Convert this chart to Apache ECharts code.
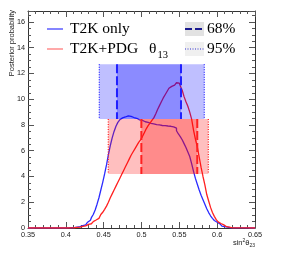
<!DOCTYPE html>
<html><head><meta charset="utf-8">
<script src="https://cdn.jsdelivr.net/npm/echarts@6/dist/echarts.min.js"></script>
<style>html,body{margin:0;padding:0;background:#fff}#c{width:284px;height:256px}</style>
</head><body><div id="c"></div>
<script>
// bin centres of sin^2(theta23) histogram
const binCenters = [0.35,
  0.4000,0.4025,0.4050,0.4075,0.4100,0.4125,0.4150,0.4175,0.4200,0.4225,
  0.4250,0.4275,0.4300,0.4325,0.4350,0.4375,0.4400,0.4425,0.4450,0.4475,
  0.4500,0.4525,0.4550,0.4575,0.4600,0.4625,0.4650,0.4675,0.4700,0.4725,
  0.4750,0.4775,0.4800,0.4825,0.4850,0.4875,0.4900,0.4925,0.4950,0.4975,
  0.5000,0.5025,0.5050,0.5075,0.5100,0.5125,0.5150,0.5175,0.5200,0.5225,
  0.5250,0.5275,0.5300,0.5325,0.5350,0.5375,0.5400,0.5425,0.5450,0.5475,
  0.5500,0.5525,0.5550,0.5575,0.5600,0.5625,0.5650,0.5675,0.5700,0.5725,
  0.5750,0.5775,0.5800,0.5825,0.5850,0.5875,0.5900,0.5925,0.5950,0.5975,
  0.6000,0.6025,0.6050,0.6075,0.6100,0.6125,0.6150,0.6175,0.6200,
  0.65];
// T2K only posterior
const t2kOnly = [0,
  0.00,0.01,0.01,0.02,0.03,0.05,0.07,0.10,0.14,0.19,
  0.25,0.33,0.45,0.60,0.80,1.05,1.40,1.85,2.35,2.95,
  3.55,4.20,4.90,5.70,6.40,7.00,7.50,7.90,8.20,8.40,
  8.55,8.62,8.68,8.70,8.66,8.62,8.58,8.52,8.48,8.40,
  8.35,8.30,8.25,8.20,8.15,8.12,8.08,8.05,8.02,8.00,
  7.98,7.96,7.95,7.93,7.92,7.90,7.88,7.85,7.75,7.55,
  7.30,7.10,6.85,6.55,6.25,5.90,5.55,5.00,4.40,3.85,
  3.40,2.95,2.55,2.20,1.85,1.50,1.20,0.95,0.75,0.58,
  0.45,0.32,0.22,0.15,0.10,0.06,0.04,0.02,0.01,
  0];
// T2K + PDG theta13 posterior
const t2kPdg = [0,
  0.00,0.00,0.01,0.01,0.02,0.03,0.05,0.07,0.10,0.13,
  0.17,0.22,0.28,0.33,0.40,0.50,0.62,0.75,0.90,1.05,
  1.22,1.45,1.70,2.00,2.35,2.65,2.95,3.25,3.55,3.85,
  4.15,4.45,4.75,5.05,5.35,5.65,5.90,6.15,6.40,6.65,
  6.85,7.10,7.40,7.70,7.95,8.15,8.35,8.55,8.85,9.20,
  9.50,9.80,10.10,10.35,10.60,10.85,11.00,11.10,11.20,11.28,
  11.25,11.05,10.70,10.20,9.80,9.45,9.00,8.45,7.60,6.90,
  6.30,5.50,4.70,4.00,3.35,2.60,2.10,1.60,1.20,0.90,
  0.65,0.48,0.35,0.24,0.15,0.10,0.06,0.03,0.01,
  0];
// credible intervals [low, high] and the band heights they are drawn in
const blue95 = [0.4442, 0.5830];
const blue68 = [0.4676, 0.5522];
const red95 = [0.4561, 0.5883];
const red68 = [0.4998, 0.5737];
const blueBand = [8.47, 12.71];
const redBand = [4.20, 8.47];
const legendNames = ['T2K only', 'T2K+PDG', '68%', '95%'];

const boxes = [
  [blue95[0], blue95[1], blueBand[0], blueBand[1], 95, 0],
  [blue68[0], blue68[1], blueBand[0], blueBand[1], 68, 0],
  [red95[0], red95[1], redBand[0], redBand[1], 95, 1],
  [red68[0], red68[1], redBand[0], redBand[1], 68, 1]
];

function zip(xs, ys) { return xs.map((x, i) => [x, ys[i]]); }

function boxItem(params, api) {
  const x0 = api.value(0), x1 = api.value(1), y0 = api.value(2), y1 = api.value(3);
  const kind = api.value(4), fam = api.value(5);
  const p0 = api.coord([x0, y1]);
  const p1 = api.coord([x1, y0]);
  const col = fam === 0 ? '0,0,255' : '255,0,0';
  const alpha = kind === 95 ? 0.25 : 0.27;
  const lineCol = fam === 0 ? '#2020ff' : '#ff2020';
  const dash = kind === 95 ? [1, 1.5] : [9, 3];
  const lw = kind === 95 ? 1.2 : 2;
  return { type: 'group', children: [
    { type: 'rect', shape: { x: p0[0], y: p0[1], width: p1[0] - p0[0], height: p1[1] - p0[1] },
      style: { fill: 'rgba(' + col + ',' + alpha + ')' } },
    { type: 'line', shape: { x1: p0[0], y1: p0[1], x2: p0[0], y2: p1[1] },
      style: { stroke: lineCol, lineWidth: lw, lineDash: dash } },
    { type: 'line', shape: { x1: p1[0], y1: p0[1], x2: p1[0], y2: p1[1] },
      style: { stroke: lineCol, lineWidth: lw, lineDash: dash } }
  ]};
}

const tickCol = '#555';
const axisCol = '#333';
const labelFont = { fontSize: 7.3, color: '#222', fontFamily: 'Liberation Sans' };

function xAx(pos, labels) {
  return { type: 'value', min: 0.35, max: 0.65, interval: 0.05, position: pos,
    axisLine: { show: true, onZero: false, lineStyle: { color: axisCol, width: 1 } },
    axisTick: { show: true, inside: true, length: 6, lineStyle: { color: tickCol } },
    minorTick: { show: true, splitNumber: 5, length: 3, lineStyle: { color: tickCol } },
    axisLabel: Object.assign({ show: labels, margin: 3 }, labelFont),
    splitLine: { show: false } };
}
function yAx(pos, labels) {
  return { type: 'value', min: 0, max: 16.85, interval: 2, position: pos,
    axisLine: { show: true, onZero: false, lineStyle: { color: axisCol, width: 1 } },
    axisTick: { show: true, inside: true, length: 6, lineStyle: { color: tickCol } },
    minorTick: { show: true, splitNumber: 4, length: 3, lineStyle: { color: tickCol } },
    axisLabel: Object.assign({ show: labels, margin: 3, showMaxLabel: false,
      formatter: v => (Math.abs(v - Math.round(v)) < 1e-6 ? String(Math.round(v)) : '') }, labelFont),
    splitLine: { show: false } };
}

const serif = 'Liberation Serif';
const legend = [
  { type: 'line', shape: { x1: 47, y1: 29, x2: 63, y2: 29 }, style: { stroke: '#3535ff', lineWidth: 1.2 } },
  { type: 'text', x: 70, y: 29, style: { text: legendNames[0], font: '15.5px "Liberation Serif"', fill: '#000', verticalAlign: 'middle' } },
  { type: 'line', shape: { x1: 47, y1: 49, x2: 63, y2: 49 }, style: { stroke: '#ff7070', lineWidth: 1.2 } },
  { type: 'text', x: 70, y: 49, style: { text: legendNames[1], font: '15.5px "Liberation Serif"', fill: '#000', verticalAlign: 'middle' } },
  { type: 'text', x: 149, y: 49, style: { text: 'θ', font: '15.5px "Liberation Serif"', fill: '#000', verticalAlign: 'middle' } },
  { type: 'text', x: 157.5, y: 55, style: { text: '13', font: '10.5px "Liberation Serif"', fill: '#000', verticalAlign: 'middle' } },
  { type: 'rect', shape: { x: 185, y: 22, width: 19, height: 14 }, style: { fill: '#e2e2e2' } },
  { type: 'line', shape: { x1: 185, y1: 29, x2: 204, y2: 29 }, style: { stroke: '#1a1a90', lineWidth: 2, lineDash: [7, 3] } },
  { type: 'text', x: 207, y: 29, style: { text: legendNames[2], font: '15.5px "Liberation Serif"', fill: '#000', verticalAlign: 'middle' } },
  { type: 'rect', shape: { x: 185, y: 42, width: 19, height: 14 }, style: { fill: '#f0f0f0' } },
  { type: 'line', shape: { x1: 185, y1: 49, x2: 204, y2: 49 }, style: { stroke: '#3030d0', lineWidth: 1.2, lineDash: [1, 1.5] } },
  { type: 'text', x: 207, y: 49, style: { text: legendNames[3], font: '15.5px "Liberation Serif"', fill: '#000', verticalAlign: 'middle' } },
  // axis titles
  { type: 'text', x: 12, y: 10, rotation: Math.PI / 2,
    style: { text: 'Posterior probability', font: '7.5px "Liberation Sans"', fill: '#222', align: 'right', verticalAlign: 'middle' } },
  { type: 'text', x: 255, y: 243,
    style: { text: '{n|sin}{s|2}{n|θ}{b|23}', align: 'right', verticalAlign: 'middle',
      rich: { n: { fontSize: 7.5, fontFamily: 'Liberation Sans', fill: '#222' },
              s: { fontSize: 5, fontFamily: 'Liberation Sans', fill: '#222', verticalAlign: 'top', padding: [0,0,5,0] },
              b: { fontSize: 5, fontFamily: 'Liberation Sans', fill: '#222', verticalAlign: 'bottom', padding: [4,0,0,0] } } } }
];

const chart = echarts.init(document.getElementById('c'), null, { renderer: 'canvas' });
chart.setOption({
  animation: false,
  backgroundColor: '#fff',
  grid: { left: 28, right: 29, top: 11, bottom: 28 },
  xAxis: [xAx('bottom', true), xAx('top', false)],
  yAxis: [yAx('left', true), yAx('right', false)],
  series: [
    { name: legendNames[0], type: 'line', step: 'middle', showSymbol: false, z: 2,
      data: zip(binCenters, t2kOnly), lineStyle: { color: '#2b2bff', width: 1.3 } },
    { name: legendNames[1], type: 'line', step: 'middle', showSymbol: false, z: 2,
      data: zip(binCenters, t2kPdg), lineStyle: { color: '#ff2020', width: 1.3 } },
    { type: 'custom', z: 3, renderItem: boxItem, data: boxes, silent: true }
  ],
  graphic: legend
});
</script>
</body></html>
